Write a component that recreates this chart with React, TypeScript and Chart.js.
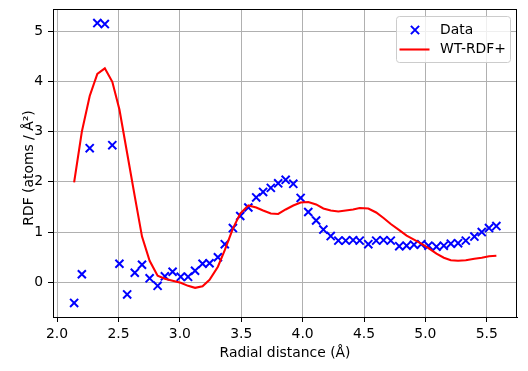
import React, { useEffect, useRef } from "react";
import { Chart, registerables } from "chart.js";

Chart.register(...registerables);

const radialDistance = [
  2.139, 2.202, 2.266, 2.328, 2.389, 2.45, 2.508, 2.571, 2.633, 2.692,
  2.754, 2.819, 2.878, 2.941, 3.007, 3.067, 3.124, 3.185, 3.242, 3.31,
  3.366, 3.432, 3.492, 3.558, 3.622, 3.678, 3.741, 3.801, 3.862, 3.924,
  3.984, 4.046, 4.11, 4.169, 4.229, 4.291, 4.351, 4.411, 4.465, 4.535,
  4.599, 4.659, 4.718, 4.787, 4.847, 4.907, 4.966, 5.025, 5.09, 5.15,
  5.207, 5.266, 5.329, 5.399, 5.459, 5.518, 5.578,
];

const rdfData = [
  -0.41, 0.16, 2.67, 5.16, 5.14, 2.73, 0.37, -0.24, 0.19, 0.35,
  0.08, -0.07, 0.12, 0.21, 0.11, 0.11, 0.23, 0.37, 0.38, 0.5,
  0.76, 1.08, 1.32, 1.49, 1.69, 1.8, 1.88, 1.97, 2.04, 1.96,
  1.68, 1.4, 1.23, 1.05, 0.92, 0.83, 0.83, 0.84, 0.83, 0.76,
  0.83, 0.84, 0.83, 0.72, 0.73, 0.75, 0.76, 0.73, 0.71, 0.73,
  0.77, 0.78, 0.83, 0.91, 1.0, 1.08, 1.12,
];

const wtRdfPlus = [
  1.99, 3.0, 3.71, 4.15, 4.26, 3.99, 3.44, 2.57, 1.71, 0.91,
  0.43, 0.13, 0.07, 0.03, -0.01, -0.07, -0.11, -0.08, 0.05, 0.31,
  0.64, 1.07, 1.37, 1.53, 1.49, 1.43, 1.37, 1.36, 1.45, 1.53,
  1.59, 1.6, 1.55, 1.47, 1.43, 1.41, 1.43, 1.45, 1.48, 1.47,
  1.39, 1.28, 1.16, 1.04, 0.93, 0.85, 0.77, 0.68, 0.57, 0.49,
  0.44, 0.43, 0.44, 0.47, 0.49, 0.52, 0.53,
];

const xTicks = [2.0, 2.5, 3.0, 3.5, 4.0, 4.5, 5.0, 5.5];
const yTicks = [0, 1, 2, 3, 4, 5];

const seriesLabels = ["Data", "WT-RDF+"];
const xTitle = "Radial distance (Å)";
const yTitle = "RDF (atoms / Å²)";

const FONT = "'DejaVu Sans', sans-serif";
const FS = 13.9;

const overlayPlugin = {
  id: "overlay",
  afterDraw(chart: any) {
    const { ctx, chartArea: a } = chart;
    ctx.save();
    // frame
    ctx.strokeStyle = "#000";
    ctx.lineWidth = 1;
    ctx.strokeRect(a.left + 0.5, a.top + 0.5, a.right - a.left - 1, a.bottom - a.top);

    // y title
    ctx.save();
    ctx.translate(33.3, (a.top + a.bottom) / 2 + 5);
    ctx.rotate(-Math.PI / 2);
    ctx.fillStyle = "#000";
    ctx.font = `${FS}px ${FONT}`;
    ctx.textAlign = "center";
    ctx.textBaseline = "alphabetic";
    ctx.fillText(yTitle, 0, 0);
    ctx.restore();

    // legend
    const w = 114;
    const h = 46;
    const bx = a.right - 7 - w;
    const by = a.top + 7;
    ctx.beginPath();
    ctx.roundRect(bx + 0.5, by + 0.5, w, h, 3);
    ctx.fillStyle = "rgba(255,255,255,0.8)";
    ctx.fill();
    ctx.strokeStyle = "#cccccc";
    ctx.lineWidth = 1;
    ctx.stroke();

    const ds = chart.data.datasets;
    const r1 = by + 14;
    const r2 = by + 33.5;
    // marker
    const mx = bx + 19;
    const s = 4.1;
    ctx.strokeStyle = "#0000ff";
    ctx.lineWidth = 2;
    ctx.beginPath();
    ctx.moveTo(mx - s, r1 - s);
    ctx.lineTo(mx + s, r1 + s);
    ctx.moveTo(mx - s, r1 + s);
    ctx.lineTo(mx + s, r1 - s);
    ctx.stroke();
    // line
    ctx.strokeStyle = "#ff0000";
    ctx.lineWidth = 2.08;
    ctx.beginPath();
    ctx.moveTo(bx + 3.5, r2);
    ctx.lineTo(bx + 33.5, r2);
    ctx.stroke();

    ctx.fillStyle = "#000";
    ctx.font = `${FS}px ${FONT}`;
    ctx.textAlign = "left";
    ctx.textBaseline = "middle";
    ctx.fillText(ds[0].label, bx + 44, r1);
    ctx.fillText(ds[1].label, bx + 44, r2);
    ctx.restore();
  },
};

export default function App() {
  const ref = useRef<HTMLCanvasElement>(null);

  useEffect(() => {
    if (!ref.current) return;
    const pointsData = radialDistance.map((x, i) => ({ x, y: rdfData[i] }));
    const pointsLine = radialDistance.map((x, i) => ({ x, y: wtRdfPlus[i] }));
    const tickFont = { family: FONT, size: FS };
    const chart = new Chart(ref.current, {
      type: "scatter",
      data: {
        datasets: [
          {
            label: seriesLabels[0],
            data: pointsData,
            pointStyle: "crossRot",
            pointRadius: 5.7,
            pointHoverRadius: 5.7,
            borderColor: "#0000ff",
            backgroundColor: "#0000ff",
            pointBorderWidth: 2,
            borderWidth: 2,
            showLine: false,
            order: 2,
          },
          {
            label: seriesLabels[1],
            data: pointsLine,
            showLine: true,
            borderColor: "#ff0000",
            backgroundColor: "#ff0000",
            borderWidth: 2.08,
            pointRadius: 0,
            pointHoverRadius: 0,
            tension: 0,
            order: 1,
          },
        ],
      },
      options: {
        animation: false,
        responsive: false,
        devicePixelRatio: 1,
        layout: { padding: { top: 9, right: 11, left: 0, bottom: 0 } },
        plugins: { legend: { display: false }, tooltip: { enabled: false } },
        scales: {
          x: {
            type: "linear",
            min: 1.967,
            max: 5.746,
            afterBuildTicks: (s: any) => {
              s.ticks = xTicks.map((v) => ({ value: v }));
            },
            afterFit: (s: any) => {
              s.height = 54;
              s.paddingLeft = 0;
              s.paddingRight = 0;
            },
            ticks: {
              callback: (v: any) => Number(v).toFixed(1),
              color: "#000",
              font: tickFont,
              padding: 4,
              maxRotation: 0,
              autoSkip: false,
            },
            grid: { color: "#b0b0b0", lineWidth: 1, tickColor: "#000", tickLength: 5, tickWidth: 1 },
            border: { display: true, color: "#000", width: 1 },
            title: {
              display: true,
              text: xTitle,
              color: "#000",
              font: tickFont,
              padding: { top: 0, bottom: 9.5 },
            },
          },
          y: {
            type: "linear",
            min: -0.69,
            max: 5.44,
            afterBuildTicks: (s: any) => {
              s.ticks = yTicks.map((v) => ({ value: v }));
            },
            afterFit: (s: any) => {
              s.width = 53;
              s.paddingTop = 0;
              s.paddingBottom = 0;
            },
            ticks: {
              callback: (v: any) => String(Math.round(Number(v))),
              color: "#000",
              font: tickFont,
              padding: 5,
              autoSkip: false,
            },
            grid: { color: "#b0b0b0", lineWidth: 1, tickColor: "#000", tickLength: 5, tickWidth: 1 },
            border: { display: true, color: "#000", width: 1 },
          },
        },
      },
      plugins: [overlayPlugin],
    });
    return () => chart.destroy();
  }, []);

  return (
    <div style={{ position: "absolute", left: 0, top: 0, width: 528, height: 371, background: "#fff" }}>
      <canvas ref={ref} width={528} height={371} style={{ display: "block" }} />
    </div>
  );
}
